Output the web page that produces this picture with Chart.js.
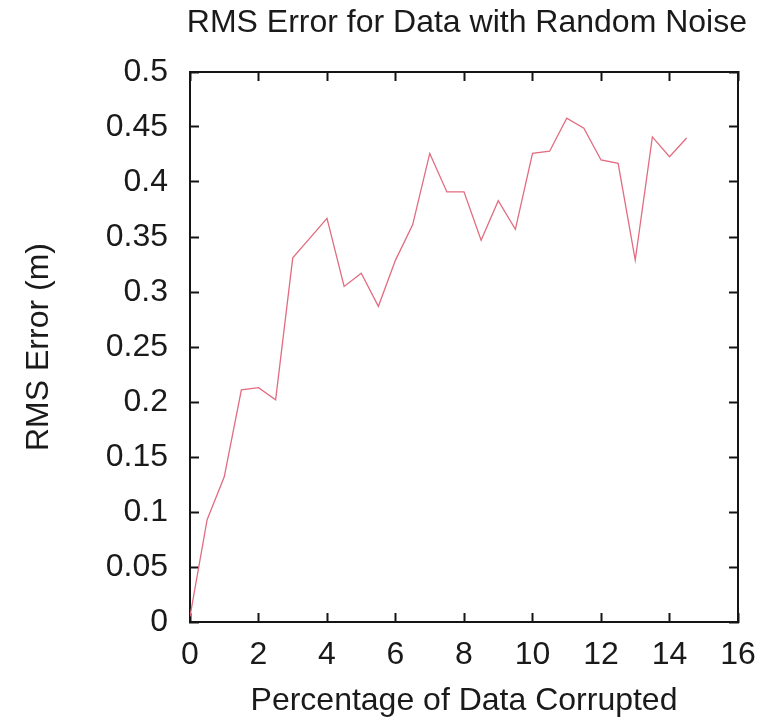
<!DOCTYPE html>
<html>
<head>
<meta charset="utf-8">
<script src="https://cdn.jsdelivr.net/npm/chart.js@4/dist/chart.umd.min.js"></script>
<style>
  body { margin: 0; background: #fff; }
  #wrap { width: 770px; height: 722px; }
</style>
</head>
<body>
<div id="wrap"><canvas id="myChart" width="770" height="722"></canvas></div>
<script>
// percentage of data corrupted (x) and RMS error
const percentCorrupted = [0,0.5,1,1.5,2,2.5,3,3.5,4,4.5,5,5.5,6,6.5,7,7.5,8,8.5,9,9.5,10,10.5,11,11.5,12,12.5,13,13.5,14,14.5];
const rmsError = [0.005,0.093,0.132,0.211,0.213,0.202,0.331,0.349,0.367,0.305,0.317,0.287,0.329,0.361,0.426,0.391,0.391,0.347,0.383,0.357,0.426,0.428,0.458,0.449,0.420,0.417,0.329,0.441,0.423,0.440];
const xTicks = [0,2,4,6,8,10,12,14,16];
const yTicks = [0,0.05,0.1,0.15,0.2,0.25,0.3,0.35,0.4,0.45,0.5];

const fontFamily = '"Liberation Sans", Arial, Helvetica, sans-serif';
const textColor = '#1a1a1a';
const axisColor = '#151515';
const font = { family: fontFamily, size: 32, lineHeight: 1.2 };

const setTicks = (list) => (scale) => { scale.ticks = list.map(v => ({ value: v })); };

// box axes with ticks pointing into the plot
function boxAxis(extra) {
    return Object.assign({
        type: 'linear',
        grid: { drawOnChartArea: false, drawTicks: true, tickLength: -9, tickWidth: 2, tickColor: axisColor },
        border: { display: true, color: axisColor, width: 2 }
    }, extra);
}

const ctx = document.getElementById('myChart').getContext('2d');
const chart = new Chart(ctx, {
    type: 'line',
    data: {
        datasets: [{
            label: 'RMS Error',
            data: percentCorrupted.map((x, i) => ({ x: x, y: rmsError[i] })),
            borderColor: 'rgb(226, 108, 128)',
            borderWidth: 1.3,
            pointRadius: 0,
            tension: 0,
            fill: false
        }]
    },
    options: {
        responsive: false,
        animation: false,
        layout: { padding: { left: 0, right: 23, top: 0, bottom: 0 } },
        plugins: {
            legend: { display: false },
            tooltip: { enabled: false },
            title: {
                display: true,
                align: 'end',
                text: 'RMS Error for Data with Random Noise',
                color: textColor,
                font: Object.assign({}, font, { weight: 'normal' }),
                padding: { top: 4, bottom: 29.6 }
            }
        },
        scales: {
            x: boxAxis({
                position: 'bottom',
                min: 0, max: 16,
                afterBuildTicks: setTicks(xTicks),
                afterFit: (s) => { s.height = 100; s.paddingLeft = 0; s.paddingRight = 0; },
                ticks: { color: textColor, font: font, padding: 23, maxRotation: 0, autoSkip: false },
                title: { display: true, text: 'Percentage of Data Corrupted', color: textColor, font: font, padding: { top: 0, bottom: 2 } }
            }),
            y: boxAxis({
                position: 'left',
                min: 0, max: 0.5,
                afterBuildTicks: setTicks(yTicks),
                afterFit: (s) => { s.width = 190; s.paddingTop = 0; s.paddingBottom = 0; },
                ticks: { color: textColor, font: font, padding: 31, callback: (v) => String(Math.round(v * 100) / 100) },
                title: { display: true, text: 'RMS Error (m)', color: textColor, font: font, padding: { top: 20, bottom: 0 } }
            }),
            x2: boxAxis({
                position: 'top',
                min: 0, max: 16,
                afterBuildTicks: setTicks(xTicks),
                afterFit: (s) => { s.height = 0; s.paddingLeft = 0; s.paddingRight = 0; },
                ticks: { display: false }
            }),
            y2: boxAxis({
                position: 'right',
                min: 0, max: 0.5,
                afterBuildTicks: setTicks(yTicks),
                afterFit: (s) => { s.width = 9; s.paddingTop = 0; s.paddingBottom = 0; },
                ticks: { display: false }
            })
        }
    }
});
</script>
</body>
</html>
